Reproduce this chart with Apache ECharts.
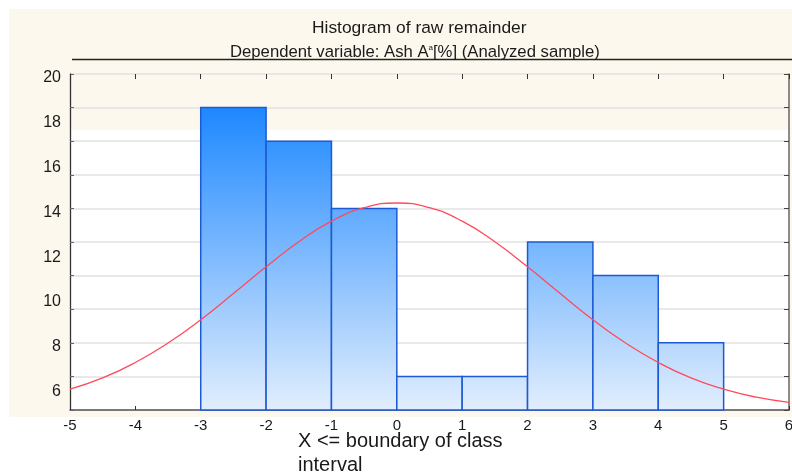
<!DOCTYPE html>
<html>
<head>
<meta charset="utf-8">
<script src="https://cdn.jsdelivr.net/npm/echarts@6/dist/echarts.min.js"></script>
<style>html,body{margin:0;padding:0;background:#fff}#c{width:792px;height:474px}</style>
</head>
<body>
<div id="c"></div>
<script>
// ---- data ----
const binStarts = [-3, -2, -1, 0, 1, 2, 3, 4];
const binEnds   = [-2, -1, 0, 1, 2, 3, 4, 5];
const binValues = [18.5, 17, 14, 6.5, 6.5, 12.5, 11, 8];
const curveX = [-5, -4.5, -4, -3.5, -3, -2.5, -2, -1.5, -1, -0.5, 0, 0.5, 1, 1.5, 2, 2.5, 3, 3.5, 4, 4.5, 5, 5.5, 6];
const curveY = [5.93, 6.43, 7.12, 7.99, 9.03, 10.2, 11.39, 12.51, 13.43, 14.03, 14.24, 14.03, 13.43, 12.51, 11.39, 10.2, 9.03, 7.99, 7.12, 6.43, 5.93, 5.57, 5.34];
const xTickLabels = [-5, -4, -3, -2, -1, 0, 1, 2, 3, 4, 5, 6];
const yTickLabels = [6, 8, 10, 12, 14, 16, 18, 20];
const titleText = 'Histogram of raw remainder';
const subtitleText = 'Dependent variable: Ash A{sup|a}[%] (Analyzed sample)';
const xAxisName = 'X <= boundary of class\ninterval';

const yMin = 5, yMax = 20, whiteTop = 17.5;

const chart = echarts.init(document.getElementById('c'), null, {renderer: 'canvas'});

const option = {
  backgroundColor: '#ffffff',
  animation: false,
  title: [
    {text: titleText, left: 307, top: 15,
     textStyle: {fontFamily: 'Liberation Sans', fontSize: 17.4, fontWeight: 'normal', color: '#1a1a1a'}},
    {text: subtitleText, left: 225, top: 39,
     textStyle: {fontFamily: 'Liberation Sans', fontSize: 16.7, fontWeight: 'normal', color: '#1a1a1a',
       rich: {sup: {fontSize: 8, verticalAlign: 'top', padding: [0,0,8,0], fontFamily: 'Liberation Sans', color: '#1a1a1a'}}}}
  ],
  graphic: {elements: [
    {type: 'rect', z: -100, shape: {x: 9, y: 9, width: 783, height: 408}, style: {fill: '#fdf8ee'}},
    {type: 'line', z: 5, shape: {x1: 72, y1: 59.5, x2: 792, y2: 59.5}, style: {stroke: '#222', lineWidth: 1.3}},
    {type: 'text', z: 5, left: 298, top: 429,
     style: {text: xAxisName, fontFamily: 'Liberation Sans', fontSize: 20, lineHeight: 24, fill: '#1a1a1a'}}
  ]},
  grid: {left: 70, right: 3, top: 74, bottom: 64, containLabel: false, outerBoundsMode: 'none'},
  xAxis: [
    {type: 'value', min: -5, max: 6, interval: 1, position: 'bottom', z: 1,
     axisLine: {show: true, onZero: false, lineStyle: {color: '#555', width: 1.5}},
     axisTick: {show: true, inside: true, length: 4, lineStyle: {color: '#333'}},
     axisLabel: {fontFamily: 'Liberation Sans', fontSize: 15, color: '#1a1a1a', margin: 8,
       formatter: v => xTickLabels.includes(v) ? String(v) : ''},
     splitLine: {show: false}},
    {type: 'value', min: -5, max: 6, interval: 1, position: 'top', z: 1,
     axisLine: {show: false, onZero: false},
     axisTick: {show: true, inside: true, length: 5, lineStyle: {color: '#333'}},
     axisLabel: {show: false}, splitLine: {show: false}}
  ],
  yAxis: [
    {type: 'value', min: yMin, max: yMax, interval: 1, position: 'left', z: 1,
     axisLine: {show: true, onZero: false, lineStyle: {color: '#333', width: 1.3}},
     axisTick: {show: false},
     axisLabel: {fontFamily: 'Liberation Sans', fontSize: 16, color: '#1a1a1a', margin: 9,
       verticalAlign: 'top', lineHeight: 8,
       formatter: v => yTickLabels.includes(v) ? String(v) : ''},
     splitLine: {show: false}},
    {type: 'value', min: 0, max: 10, interval: 1, position: 'right', z: 1,
     axisLine: {show: true, onZero: false, lineStyle: {color: '#666', width: 1.5}},
     axisTick: {show: true, inside: true, length: 5, lineStyle: {color: '#444'}},
     axisLabel: {show: false},
     splitLine: {show: true, lineStyle: {color: '#e2e2e2', width: 1.5}}},
    {type: 'value', min: 0, max: 10, interval: 1, position: 'left', z: 1,
     axisLine: {show: false, onZero: false},
     axisTick: {show: true, inside: true, length: 4, lineStyle: {color: '#666'}},
     axisLabel: {show: false}, splitLine: {show: false}}
  ],
  series: [
    {type: 'custom', z: 0, silent: true, xAxisIndex: 0, yAxisIndex: 0,
     data: [[-5, 6, whiteTop]],
     renderItem: (params, api) => {
       const p0 = api.coord([api.value(0), api.value(2)]);
       const p1 = api.coord([api.value(1), yMin]);
       return {type: 'rect', shape: {x: p0[0], y: p0[1], width: p1[0] - p0[0], height: p1[1] - p0[1]},
               style: {fill: '#ffffff'}};
     }},
    {type: 'custom', z: 2, xAxisIndex: 0, yAxisIndex: 0,
     data: binStarts.map((s, i) => [s, binEnds[i], binValues[i]]),
     renderItem: (params, api) => {
       const p0 = api.coord([api.value(0), api.value(2)]);
       const p1 = api.coord([api.value(1), yMin]);
       const gTop = api.coord([0, Math.max.apply(null, binValues)])[1];
       const gBot = api.coord([0, yMin])[1];
       const fill = new echarts.graphic.LinearGradient(0, gTop, 0, gBot, [
         {offset: 0, color: '#1e88ff'}, {offset: 1, color: '#e2eefd'}], true);
       return {type: 'rect', shape: {x: p0[0], y: p0[1], width: p1[0] - p0[0], height: p1[1] - p0[1]},
               style: {fill: fill, stroke: '#1c5ad4', lineWidth: 1.5}};
     }},
    {type: 'line', z: 3, xAxisIndex: 0, yAxisIndex: 0, smooth: true, symbol: 'none',
     data: curveX.map((x, i) => [x, curveY[i]]),
     lineStyle: {color: '#ff4a5a', width: 1.3}}
  ]
};
chart.setOption(option);
</script>
</body>
</html>
